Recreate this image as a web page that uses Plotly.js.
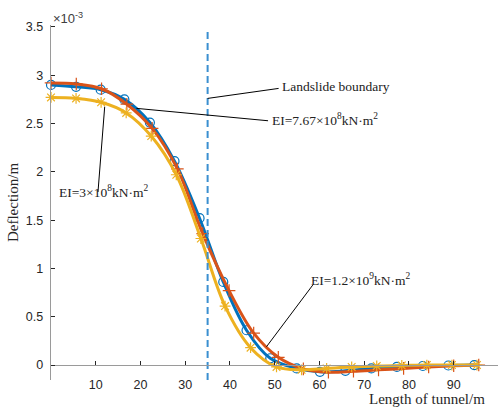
<!DOCTYPE html>
<html>
<head>
<meta charset="utf-8">
<script src="https://cdn.plot.ly/plotly-3.0.1.min.js"></script>
<style>html,body{margin:0;padding:0;background:#fff;}#chart{width:498px;height:407px;}</style>
</head>
<body>
<div id="chart"></div>
<script>
// Deflection values in units of 1e-3 m
const blueX = [0, 5.6, 11.1, 16.4, 22.1, 27.6, 33.2, 38.5, 43.7, 49.0, 54.9, 60.1, 65.8, 71.6, 77.3, 83.1, 88.8, 94.6];
const blueY = [2.90, 2.88, 2.85, 2.75, 2.51, 2.11, 1.52, 0.86, 0.36, 0.07, -0.035, -0.07, -0.06, -0.035, -0.02, -0.01, -0.005, 0];
const redX = [0, 5.65, 11.3, 16.95, 22.6, 28.25, 33.9, 39.8, 45.3, 50.8, 56.4, 62.0, 67.6, 73.2, 78.8, 84.4, 90.0, 95.6];
const redY = [2.92, 2.91, 2.86, 2.70, 2.45, 2.03, 1.36, 0.77, 0.33, 0.08, -0.04, -0.075, -0.065, -0.05, -0.035, -0.02, -0.008, 0];
const yellowX = [0, 5.6, 11.2, 16.8, 22.4, 28.0, 33.5, 38.9, 44.6, 50.4, 56.0, 61.6, 67.2, 72.8, 78.4, 84.0, 89.6, 95.2];
const yellowY = [2.77, 2.76, 2.72, 2.61, 2.37, 1.97, 1.31, 0.61, 0.18, -0.02, -0.05, -0.035, -0.02, -0.01, -0.005, 0, 0, 0];
const boundaryX = [35, 35];
const boundaryY = [-0.155, 3.48];
const xTicks = [10, 20, 30, 40, 50, 60, 70, 80, 90];
const yTicks = [0, 0.5, 1, 1.5, 2, 2.5, 3, 3.5];

const serif = "Liberation Serif, Times New Roman, serif";
const sans = "Liberation Sans, Arial, sans-serif";

const traces = [
  {x: blueX, y: blueY, mode: 'lines+markers', line: {color: '#0072BD', width: 3, shape: 'spline'},
   marker: {symbol: 'circle-open', size: 9, color: '#0072BD', line: {width: 1.2}}, cliponaxis: false},
  {x: redX, y: redY, mode: 'lines+markers', line: {color: '#D95319', width: 3, shape: 'spline'},
   marker: {symbol: 'cross-thin-open', size: 9, color: '#D95319', line: {width: 1.2, color: '#D95319'}}, cliponaxis: false},
  {x: yellowX, y: yellowY, mode: 'lines+markers', line: {color: '#EDB120', width: 3, shape: 'spline'},
   marker: {symbol: 'asterisk-open', size: 9, color: '#EDB120', line: {width: 1.2, color: '#EDB120'}}, cliponaxis: false},
  {x: boundaryX, y: boundaryY, mode: 'lines', line: {color: '#3a8fd0', width: 2, dash: '7px,4px'}, cliponaxis: false}
];

// leader line from a point on the chart (data coords) to an offset in pixels (dx right, dy up)
function leader(x, y, dx, dy) {
  return {type: 'line', xref: 'x', yref: 'y', xsizemode: 'pixel', ysizemode: 'pixel',
          xanchor: x, yanchor: y, x0: 0, y0: 0, x1: dx, y1: dy,
          line: {color: '#000', width: 1}, layer: 'above'};
}
function label(x, y, text) {
  return {x: x, y: y, xref: 'x', yref: 'y', text: text, showarrow: false, xanchor: 'left', yanchor: 'middle',
          font: {family: serif, size: 13.5, color: '#222'}};
}

const layout = {
  width: 498, height: 407,
  margin: {l: 51, r: 0, t: 25, b: 27},
  paper_bgcolor: '#fff', plot_bgcolor: '#fff',
  showlegend: false,
  xaxis: {range: [0, 99.9], anchor: 'free', position: 0.0425, showgrid: false, zeroline: false,
          showline: true, linecolor: '#9a9a9a', linewidth: 1.3,
          tickmode: 'array', tickvals: xTicks, ticks: 'inside', ticklen: 4, tickcolor: '#262626', tickwidth: 1,
          ticklabelstandoff: 8,
          tickfont: {family: sans, size: 12.5, color: '#262626'}},
  yaxis: {range: [-0.155, 3.52], showgrid: false, zeroline: false,
          showline: true, linecolor: '#9a9a9a', linewidth: 1.3,
          tickmode: 'array', tickvals: yTicks, ticks: 'inside', ticklen: 4, tickcolor: '#262626', tickwidth: 1,
          ticklabelstandoff: 4,
          tickfont: {family: sans, size: 12.5, color: '#262626'},
          title: {text: 'Deflection/m', font: {family: serif, size: 15, color: '#262626'}, standoff: 3}},
  shapes: [
    leader(35, 2.76, 71, 10),
    leader(19.1, 2.657, 131.6, -12.4),
    leader(12.0, 2.674, -6.7, -85.3),
    leader(48.15, 0.189, 46.3, 61.7)
  ],
  annotations: [
    label(51.1, 2.888, 'Landslide boundary'),
    label(48.9, 2.54, 'EI=7.67×10<sup>8</sup>kN·m<sup>2</sup>'),
    label(1.4, 1.80, 'EI=3×10<sup>8</sup>kN·m<sup>2</sup>'),
    label(57.6, 0.89, 'EI=1.2×10<sup>9</sup>kN·m<sup>2</sup>'),
    {x: 0, y: 1.02, xref: 'paper', yref: 'paper', xanchor: 'left', yanchor: 'middle', showarrow: false,
     text: '×10<sup>-3</sup>', font: {family: sans, size: 13, color: '#404040'}},
    {x: 0.975, y: -0.0535, xref: 'paper', yref: 'paper', xanchor: 'right', yanchor: 'middle', showarrow: false,
     text: 'Length of tunnel/m', font: {family: serif, size: 15, color: '#262626'}}
  ]
};

Plotly.newPlot('chart', traces, layout, {displayModeBar: false, staticPlot: true});
</script>
</body>
</html>
